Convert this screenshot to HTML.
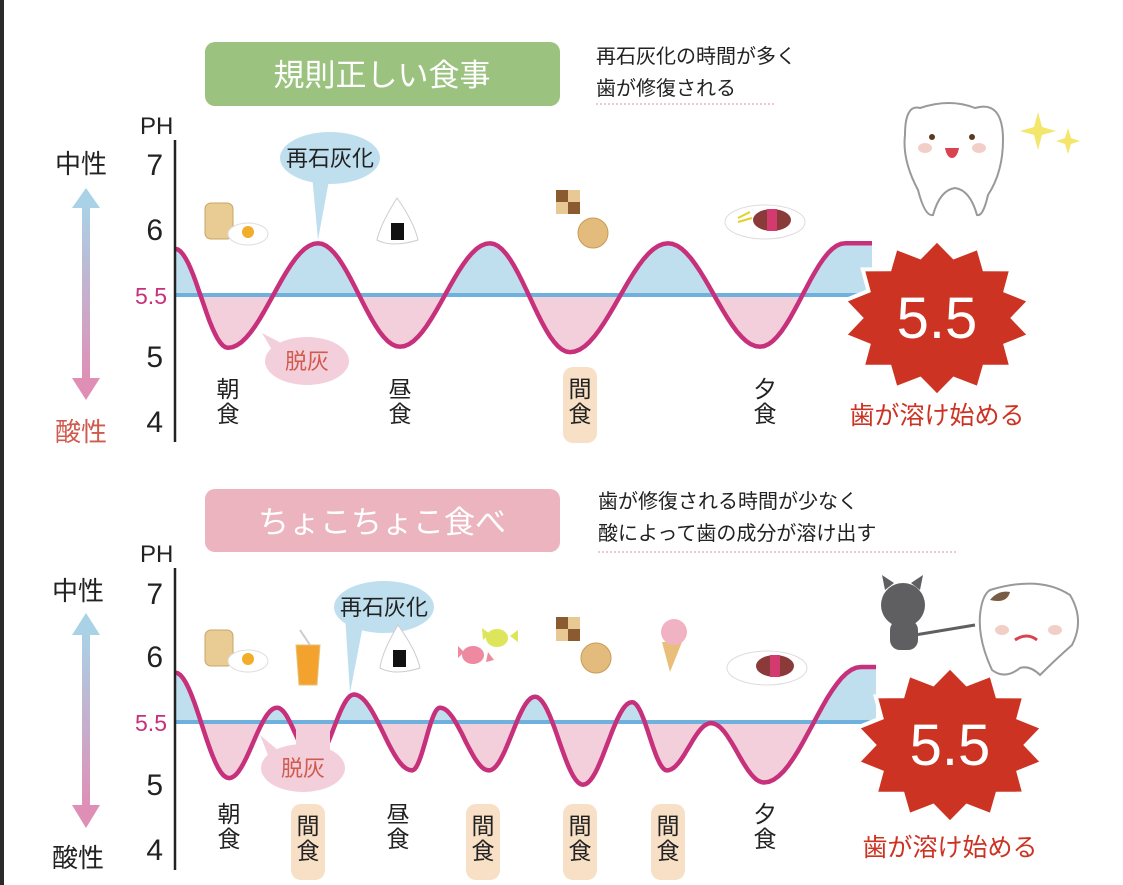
<!DOCTYPE html>
<html><head><meta charset="utf-8">
<style>
html,body{margin:0;padding:0;background:#fff;}
body{width:1123px;height:885px;overflow:hidden;position:relative;font-family:"Liberation Sans","Noto Sans CJK JP",sans-serif;}
svg{position:absolute;left:0;top:0;}
</style></head>
<body>
<svg id="svg" width="1123" height="885" viewBox="0 0 1123 885" xmlns="http://www.w3.org/2000/svg" font-family="Liberation Sans, Noto Sans CJK JP, sans-serif">
<defs>
<linearGradient id="arrowGrad" x1="0" y1="0" x2="0" y2="1">
<stop offset="0" stop-color="#a9d2e6"/><stop offset="1" stop-color="#df8fb6"/>
</linearGradient>
</defs>
<rect x="0" y="0" width="4" height="885" fill="#2a2a2a"/>
<g id="layer"></g>
</svg>
<script>
// ===== Data =====
const tickLabels = ["7","6","5","4"];
// Top chart (regular meals): extrema positions (minutes-ish units along time axis) and pH values
const topTimes = [0, 53, 143, 225, 315, 395, 493, 585, 670, 697];
const topPH    = [5.92, 5.02, 5.97, 5.03, 5.97, 4.98, 5.97, 5.03, 5.97, 5.97];
const topMeals = ["朝食","昼食","間食","夕食"];
const topMealTimes = [53, 225, 405, 590];
const topMealSnack = [false,false,true,false];
// Bottom chart (snacking)
const botTimes = [0, 54, 102, 139, 179, 237, 265, 314, 360, 408, 457, 492, 536, 589, 686, 701];
const botPH    = [5.95, 4.99, 5.63, 5.15, 5.75, 5.06, 5.63, 5.06, 5.73, 4.93, 5.68, 5.06, 5.49, 4.95, 6.0, 6.0];
const botMeals = ["朝食","間食","昼食","間食","間食","間食","夕食"];
const botMealTimes = [54, 133, 223, 308, 405, 493, 590];
const botMealSnack = [false,true,false,true,true,true,false];
const threshold = 5.5;

const NS="http://www.w3.org/2000/svg";
const layer=document.getElementById('layer');
function mk(tag,attrs,parent){const e=document.createElementNS(NS,tag);for(const k in attrs)e.setAttribute(k,attrs[k]);(parent||layer).appendChild(e);return e;}
function txt(s,attrs,parent){const e=mk('text',attrs,parent);e.textContent=s;return e;}

function chart(cfg){
  const g=mk('g',{});
  
  
  const x0=cfg.x0;
  const xs=t=>x0+t;
  const ys=p=>cfg.y55-(p-threshold)*110;
  const times=cfg.times, ph=cfg.ph;
  // build curve with cosine interpolation between extrema
  let pts=[];
  for(let i=0;i<times.length-1;i++){
    const a=times[i],b=times[i+1];
    for(let s=0;s<=20;s++){
      const f=s/20, w=(1-Math.cos(Math.PI*f))/2;
      pts.push([xs(a+(b-a)*f), ys(ph[i]+(ph[i+1]-ph[i])*w)]);
    }
  }
  const line='M'+pts.map(p=>p[0].toFixed(1)+','+p[1].toFixed(1)).join('L');
  const yb=ys(threshold);
  const xEnd=xs(times[times.length-1]);
  const area=line+'L'+xEnd+','+yb+'L'+x0+','+yb+'Z';
  const cid=cfg.name;
  const defs=mk('defs',{},g);
  const ca=mk('clipPath',{id:cid+'-above'},defs); mk('rect',{x:0,y:0,width:1123,height:yb},ca);
  const cb=mk('clipPath',{id:cid+'-below'},defs); mk('rect',{x:0,y:yb,width:1123,height:400},cb);
  const fa=mk('path',{d:area,fill:'#bfdfef','clip-path':'url(#'+cid+'-above)'},g);
  
  
  const fb=mk('path',{d:area,fill:'#f3cfdb','clip-path':'url(#'+cid+'-below)'},g);
  
  
  const bl=mk('line',{x1:x0,y1:yb,x2:cfg.lineEnd,y2:yb,stroke:'#6fb1dc','stroke-width':4},g);
  
  
  const cur=mk('path',{d:line,fill:'none',stroke:'#c7307a','stroke-width':4.5,'stroke-linejoin':'round'},g);
  
  
  if(cfg.gap){ const gp=mk('rect',{x:xs(cfg.gap[0]),y:yb+8,width:cfg.gap[1]-cfg.gap[0],height:40,fill:'#f3cfdb'},g);
     }
  // axis
  const ax=mk('line',{x1:x0,y1:cfg.axTop,x2:x0,y2:cfg.axBot,stroke:'#222','stroke-width':2.5},g);
  
  
  const ph_=txt('PH',{x:x0-35,y:cfg.axTop-6,'font-size':24,fill:'#222'},g);
  
  
  tickLabels.forEach((t,i)=>{
    const e=txt(t,{x:x0-12,y:cfg.tickY[i],'font-size':30,fill:'#222','text-anchor':'end'},g);
    
    
  });
  const t55=txt('5.5',{x:x0-8,y:yb+9,'font-size':23,fill:'#c7307a','text-anchor':'end'},g);
  
  
  // meal labels
  cfg.meals.forEach((m,i)=>{
    const cx=xs(cfg.mealTimes[i]);
    const my=cfg.mealY+(cfg.mealSnack[i]?cfg.snackDy:0);
    if(cfg.mealSnack[i]){
      const r=mk('rect',{x:cx-17,y:my-30,width:34,height:76,rx:10,fill:'#f7e0c6'},g);
      
      
    }
    [...m].forEach((ch,k)=>{
      const e=txt(ch,{x:cx,y:my+k*25,'font-size':23,fill:'#222','text-anchor':'middle'},g);
      
      
    });
  });
  return {xs,ys};
}

chart({name:'regular-chart',x0:175,y55:295,lineEnd:872,axTop:140,axBot:442,tickY:[175,240,367,432],
  times:topTimes,ph:topPH,meals:topMeals,mealTimes:topMealTimes,mealSnack:topMealSnack,mealY:397,snackDy:0});
chart({name:'snacking-chart',x0:175,y55:722,lineEnd:872,axTop:568,axBot:870,tickY:[604,667,795,860],
  times:botTimes,ph:botPH,meals:botMeals,mealTimes:botMealTimes,mealSnack:botMealSnack,mealY:822,snackDy:12,gap:[121,155]});

function staticEls(){
  const h=`
  <rect x="205" y="42" width="355" height="64" rx="10" fill="#9bc27f"/>
  <text x="382" y="86" font-size="31" fill="#fff" text-anchor="middle">規則正しい食事</text>
  <text x="596" y="63" font-size="20" fill="#222">再石灰化の時間が多く</text>
  <text x="596" y="95" font-size="20" fill="#222">歯が修復される</text>
  <line x1="596" y1="104" x2="775" y2="104" stroke="#e5a9b8" stroke-width="1.2" stroke-dasharray="2,2"/>
  <rect x="205" y="489" width="355" height="63" rx="10" fill="#ebb4be"/>
  <text x="382" y="533" font-size="31" fill="#fff" text-anchor="middle">ちょこちょこ食べ</text>
  <text x="598" y="508" font-size="20" fill="#222">歯が修復される時間が少なく</text>
  <text x="598" y="540" font-size="20" fill="#222">酸によって歯の成分が溶け出す</text>
  <line x1="598" y1="552" x2="958" y2="552" stroke="#e5a9b8" stroke-width="1.2" stroke-dasharray="2,2"/>

  <text x="55" y="173" font-size="26" fill="#222">中性</text>
  <text x="55" y="441" font-size="26" fill="#d05a4d">酸性</text>
  <g>
    <rect x="82" y="205" width="8" height="175" fill="url(#arrowGrad)"/>
    <polygon points="72,208 86,188 100,208" fill="#a9d2e6"/>
    <polygon points="72,378 86,400 100,378" fill="#df8fb6"/>
  </g>
  <text x="52" y="600" font-size="26" fill="#222">中性</text>
  <text x="52" y="867" font-size="26" fill="#222">酸性</text>
  <g>
    <rect x="82" y="632" width="8" height="175" fill="url(#arrowGrad)"/>
    <polygon points="72,635 86,613 100,635" fill="#a9d2e6"/>
    <polygon points="72,805 86,828 100,805" fill="#df8fb6"/>
  </g>

  <g>
    <polygon points="312,175 330,175 318,240" fill="#bfdfef"/>
    <ellipse cx="330" cy="158" rx="50" ry="26" fill="#bfdfef"/>
    <text x="330" y="166" font-size="22" fill="#222" text-anchor="middle">再石灰化</text>
  </g>
  <g>
    <polygon points="262,333 285,345 275,355" fill="#f3cfdb"/>
    <ellipse cx="307" cy="361" rx="42" ry="24" fill="#f3cfdb"/>
    <text x="307" y="369" font-size="22" fill="#d05a4d" text-anchor="middle">脱灰</text>
  </g>
  <g>
    <polygon points="345,615 365,615 350,693" fill="#bfdfef"/>
    <ellipse cx="384" cy="607" rx="50" ry="26" fill="#bfdfef"/>
    <text x="384" y="615" font-size="22" fill="#222" text-anchor="middle">再石灰化</text>
  </g>
  <g>
    <polygon points="260,735 280,752 270,760" fill="#f3cfdb"/>
    <ellipse cx="303" cy="768" rx="42" ry="24" fill="#f3cfdb"/>
    <text x="303" y="776" font-size="22" fill="#d05a4d" text-anchor="middle">脱灰</text>
  </g>
  `;
  layer.insertAdjacentHTML('beforeend',h);
}
staticEls();

function burst(cx,cy,rx,ry,name,labelY){
  let p=[];const n=14;
  for(let i=0;i<n*2;i++){const a=Math.PI*i/n - Math.PI/2;const r=i%2?0.8:1;p.push((cx+Math.cos(a)*rx*r).toFixed(1)+','+(cy+Math.sin(a)*ry*r).toFixed(1));}
  const g=mk('g',{});
  
  
  mk('polygon',{points:p.join(' '),fill:'#cc3322',stroke:'#fff','stroke-width':4},g);
  txt('5.5',{x:cx,y:cy+20,'font-size':58,fill:'#fff','text-anchor':'middle'},g);
  txt('歯が溶け始める',{x:cx+0,y:labelY,'font-size':25,fill:'#cc3322','text-anchor':'middle'},g);
}
burst(937,318,95,78,'dissolve-burst-top',424);
burst(950,745,95,78,'dissolve-burst-bottom',856);

// Food/character icons (decorative)
layer.insertAdjacentHTML('beforeend',`
<g>
 <rect x="205" y="203" width="28" height="36" rx="6" fill="#e8cc94" stroke="#c9a463"/>
 <ellipse cx="248" cy="234" rx="20" ry="11" fill="#fff" stroke="#ddd"/><circle cx="248" cy="232" r="6" fill="#f2ae2a"/>
</g>
<g>
 <path d="M397 198 Q380 225 377 240 Q392 248 418 240 Q414 222 397 198Z" fill="#fff" stroke="#ccc"/>
 <rect x="391" y="223" width="13" height="17" fill="#111"/>
</g>
<g>
 <rect x="556" y="190" width="24" height="24" fill="#8a5a30"/><rect x="568" y="190" width="12" height="12" fill="#e8c893"/><rect x="556" y="202" width="12" height="12" fill="#e8c893"/>
 <circle cx="593" cy="233" r="15" fill="#e3bb7d" stroke="#c99a55"/>
</g>
<g>
 <ellipse cx="765" cy="222" rx="40" ry="17" fill="#fff" stroke="#ddd"/>
 <ellipse cx="772" cy="220" rx="19" ry="11" fill="#8b3a3a"/><rect x="767" y="209" width="10" height="22" fill="#d33b6e"/>
 <path d="M738 218 l12 -6 M738 222 l14 -4" stroke="#e2d12a" stroke-width="2"/>
</g>
<g>
 <path d="M920 108 Q950 98 975 108 Q1003 100 1003 140 Q1003 172 988 195 Q983 217 977 215 Q970 190 955 188 Q940 190 933 215 Q925 217 918 190 Q902 160 905 135 Q905 104 920 108Z" fill="#fff" stroke="#999" stroke-width="2"/>
 <circle cx="932" cy="137" r="3" fill="#5b3a1e"/><circle cx="972" cy="137" r="3" fill="#5b3a1e"/>
 <ellipse cx="925" cy="148" rx="7" ry="5" fill="#f2cfc6"/><ellipse cx="979" cy="148" rx="7" ry="5" fill="#f2cfc6"/>
 <path d="M945 148 h14 q-2 10 -7 10 q-5 0 -7 -10z" fill="#d9434f"/>
</g>
<g fill="#f4e66a">
 <path d="M1038 112 l4 15 l14 4 l-14 4 l-4 15 l-4 -15 l-14 -4 l14 -4z"/>
 <path d="M1068 128 l3 10 l9 3 l-9 3 l-3 10 l-3 -10 l-9 -3 l9 -3z"/>
</g>
<g>
 <rect x="205" y="630" width="28" height="36" rx="6" fill="#e8cc94" stroke="#c9a463"/>
 <ellipse cx="248" cy="661" rx="20" ry="11" fill="#fff" stroke="#ddd"/><circle cx="248" cy="659" r="6" fill="#f2ae2a"/>
</g>
<g>
 <path d="M296 645 h24 l-3 40 h-18z" fill="#f3a32d" stroke="#e6c27a"/><line x1="310" y1="645" x2="300" y2="630" stroke="#ccc" stroke-width="2"/>
</g>
<g>
 <path d="M398 625 Q382 652 380 668 Q395 676 420 668 Q416 650 398 625Z" fill="#fff" stroke="#ccc"/>
 <rect x="393" y="650" width="13" height="17" fill="#111"/>
</g>
<g>
 <ellipse cx="473" cy="655" rx="11" ry="9" fill="#ee8aa0"/><path d="M458 646 l6 6 -6 6z M488 652 l6 8 -8 2z" fill="#ee8aa0"/>
 <ellipse cx="497" cy="638" rx="11" ry="9" fill="#dde55a"/><path d="M482 628 l8 6 -7 6z M510 636 l8 -6 v12z" fill="#dde55a"/>
</g>
<g>
 <rect x="556" y="617" width="24" height="24" fill="#8a5a30"/><rect x="568" y="617" width="12" height="12" fill="#e8c893"/><rect x="556" y="629" width="12" height="12" fill="#e8c893"/>
 <circle cx="596" cy="658" r="15" fill="#e3bb7d" stroke="#c99a55"/>
</g>
<g>
 <path d="M662 642 l20 0 l-12 30z" fill="#e9bd7a"/><circle cx="674" cy="632" r="13" fill="#f1b3c4"/>
</g>
<g>
 <ellipse cx="767" cy="668" rx="40" ry="17" fill="#fff" stroke="#ddd"/>
 <ellipse cx="775" cy="666" rx="19" ry="11" fill="#8b3a3a"/><rect x="770" y="655" width="10" height="22" fill="#d33b6e"/>
</g>
<g>
 <circle cx="903" cy="605" r="22" fill="#5f5f62"/><path d="M885 590 l-3 -15 l12 8z M920 590 l3 -15 l-12 8z" fill="#5f5f62"/>
 <rect x="890" y="620" width="28" height="30" rx="10" fill="#5f5f62"/>
 <line x1="915" y1="635" x2="975" y2="625" stroke="#5f5f62" stroke-width="3"/>
</g>
<g>
 <path d="M990 590 Q1040 575 1070 595 Q1085 620 1072 645 Q1055 660 1040 675 Q1030 665 1020 668 Q1005 680 992 670 Q978 640 980 615 Q982 595 990 590Z" fill="#fff" stroke="#999" stroke-width="2"/>
 <path d="M990 600 q8 -10 20 -8 q-3 12 -20 8z" fill="#7a5b44"/>
 <ellipse cx="1002" cy="630" rx="7" ry="5" fill="#f2cfc6"/><ellipse cx="1055" cy="630" rx="7" ry="5" fill="#f2cfc6"/>
 <path d="M1015 640 q12 -8 22 0" stroke="#d9434f" stroke-width="3" fill="none"/>
</g>
`);
</script>
</body></html>
